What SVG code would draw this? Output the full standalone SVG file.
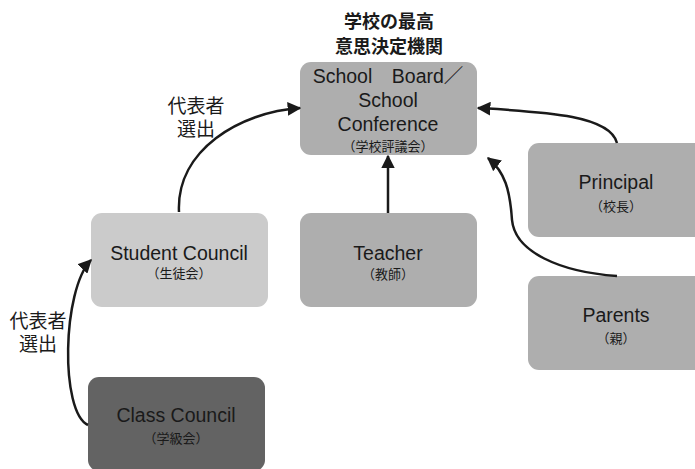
<svg xmlns="http://www.w3.org/2000/svg" width="695" height="469" viewBox="0 0 695 469">
<defs>
<marker id="ah" viewBox="0 0 10 10" refX="9" refY="5" markerWidth="5.5" markerHeight="5.5" orient="auto" markerUnits="strokeWidth">
<path d="M0,0 L10,5 L0,10 z" fill="#1a1a1a"/>
</marker>
<style>
.t{font-family:"Liberation Sans","Noto Sans CJK JP",sans-serif;fill:#1a1a1a;text-anchor:middle}
.m{font-size:19.5px}
.s{font-size:13px}
.l{font-size:19px}
.b{font-size:18px;font-weight:bold;font-family:"Noto Sans CJK JP",sans-serif}
.c{fill:none;stroke:#1a1a1a;stroke-width:2.5;marker-end:url(#ah)}
</style>
</defs>
<rect width="695" height="469" fill="#fff"/>
<g id="title">
<text class="t b" x="389" y="28">学校の最高</text>
<text class="t b" x="389" y="53">意思決定機関</text>
</g>
<g id="board">
<rect x="300" y="62" width="177" height="93" rx="11" fill="#aeaeae"/>
<text class="t m" x="388" y="83">School　Board／</text>
<text class="t m" x="388" y="107">School</text>
<text class="t m" x="388" y="131">Conference</text>
<text class="t s" x="388" y="151">（学校評議会）</text>
</g>
<g id="student">
<rect x="91" y="213" width="177" height="94" rx="11" fill="#cbcbcb"/>
<text class="t m" x="179" y="260">Student Council</text>
<text class="t s" x="179" y="278">（生徒会）</text>
</g>
<g id="teacher">
<rect x="300" y="213" width="177" height="94" rx="11" fill="#aeaeae"/>
<text class="t m" x="388" y="260">Teacher</text>
<text class="t s" x="388" y="279">（教師）</text>
</g>
<g id="principal">
<rect x="528" y="143" width="177" height="94" rx="11" fill="#aeaeae"/>
<text class="t m" x="616" y="189">Principal</text>
<text class="t s" x="616" y="211">（校長）</text>
</g>
<g id="parents">
<rect x="528" y="276" width="177" height="94" rx="11" fill="#aeaeae"/>
<text class="t m" x="616" y="322">Parents</text>
<text class="t s" x="616" y="343">（親）</text>
</g>
<g id="class">
<rect x="88" y="377" width="177" height="94" rx="11" fill="#636363"/>
<text class="t m" x="176" y="422">Class Council</text>
<text class="t s" x="176" y="443">（学級会）</text>
</g>
<g id="connectors">
<path class="c" d="M179,212 C176,150 240,112 300,108"/>
<path class="c" d="M88,425 C60,412 62,290 91,260"/>
<path class="c" d="M388,213 L388,156"/>
<path class="c" d="M617,143 C610,115 545,112 478,108"/>
<path class="c" d="M617,276 C560,272 515,252 512,220 C510,190 505,172 488,158"/>
</g>
<g id="labels">
<text class="t l" x="196" y="113">代表者</text>
<text class="t l" x="196" y="136">選出</text>
<text class="t l" x="38" y="328">代表者</text>
<text class="t l" x="38" y="351">選出</text>
</g>
</svg>
